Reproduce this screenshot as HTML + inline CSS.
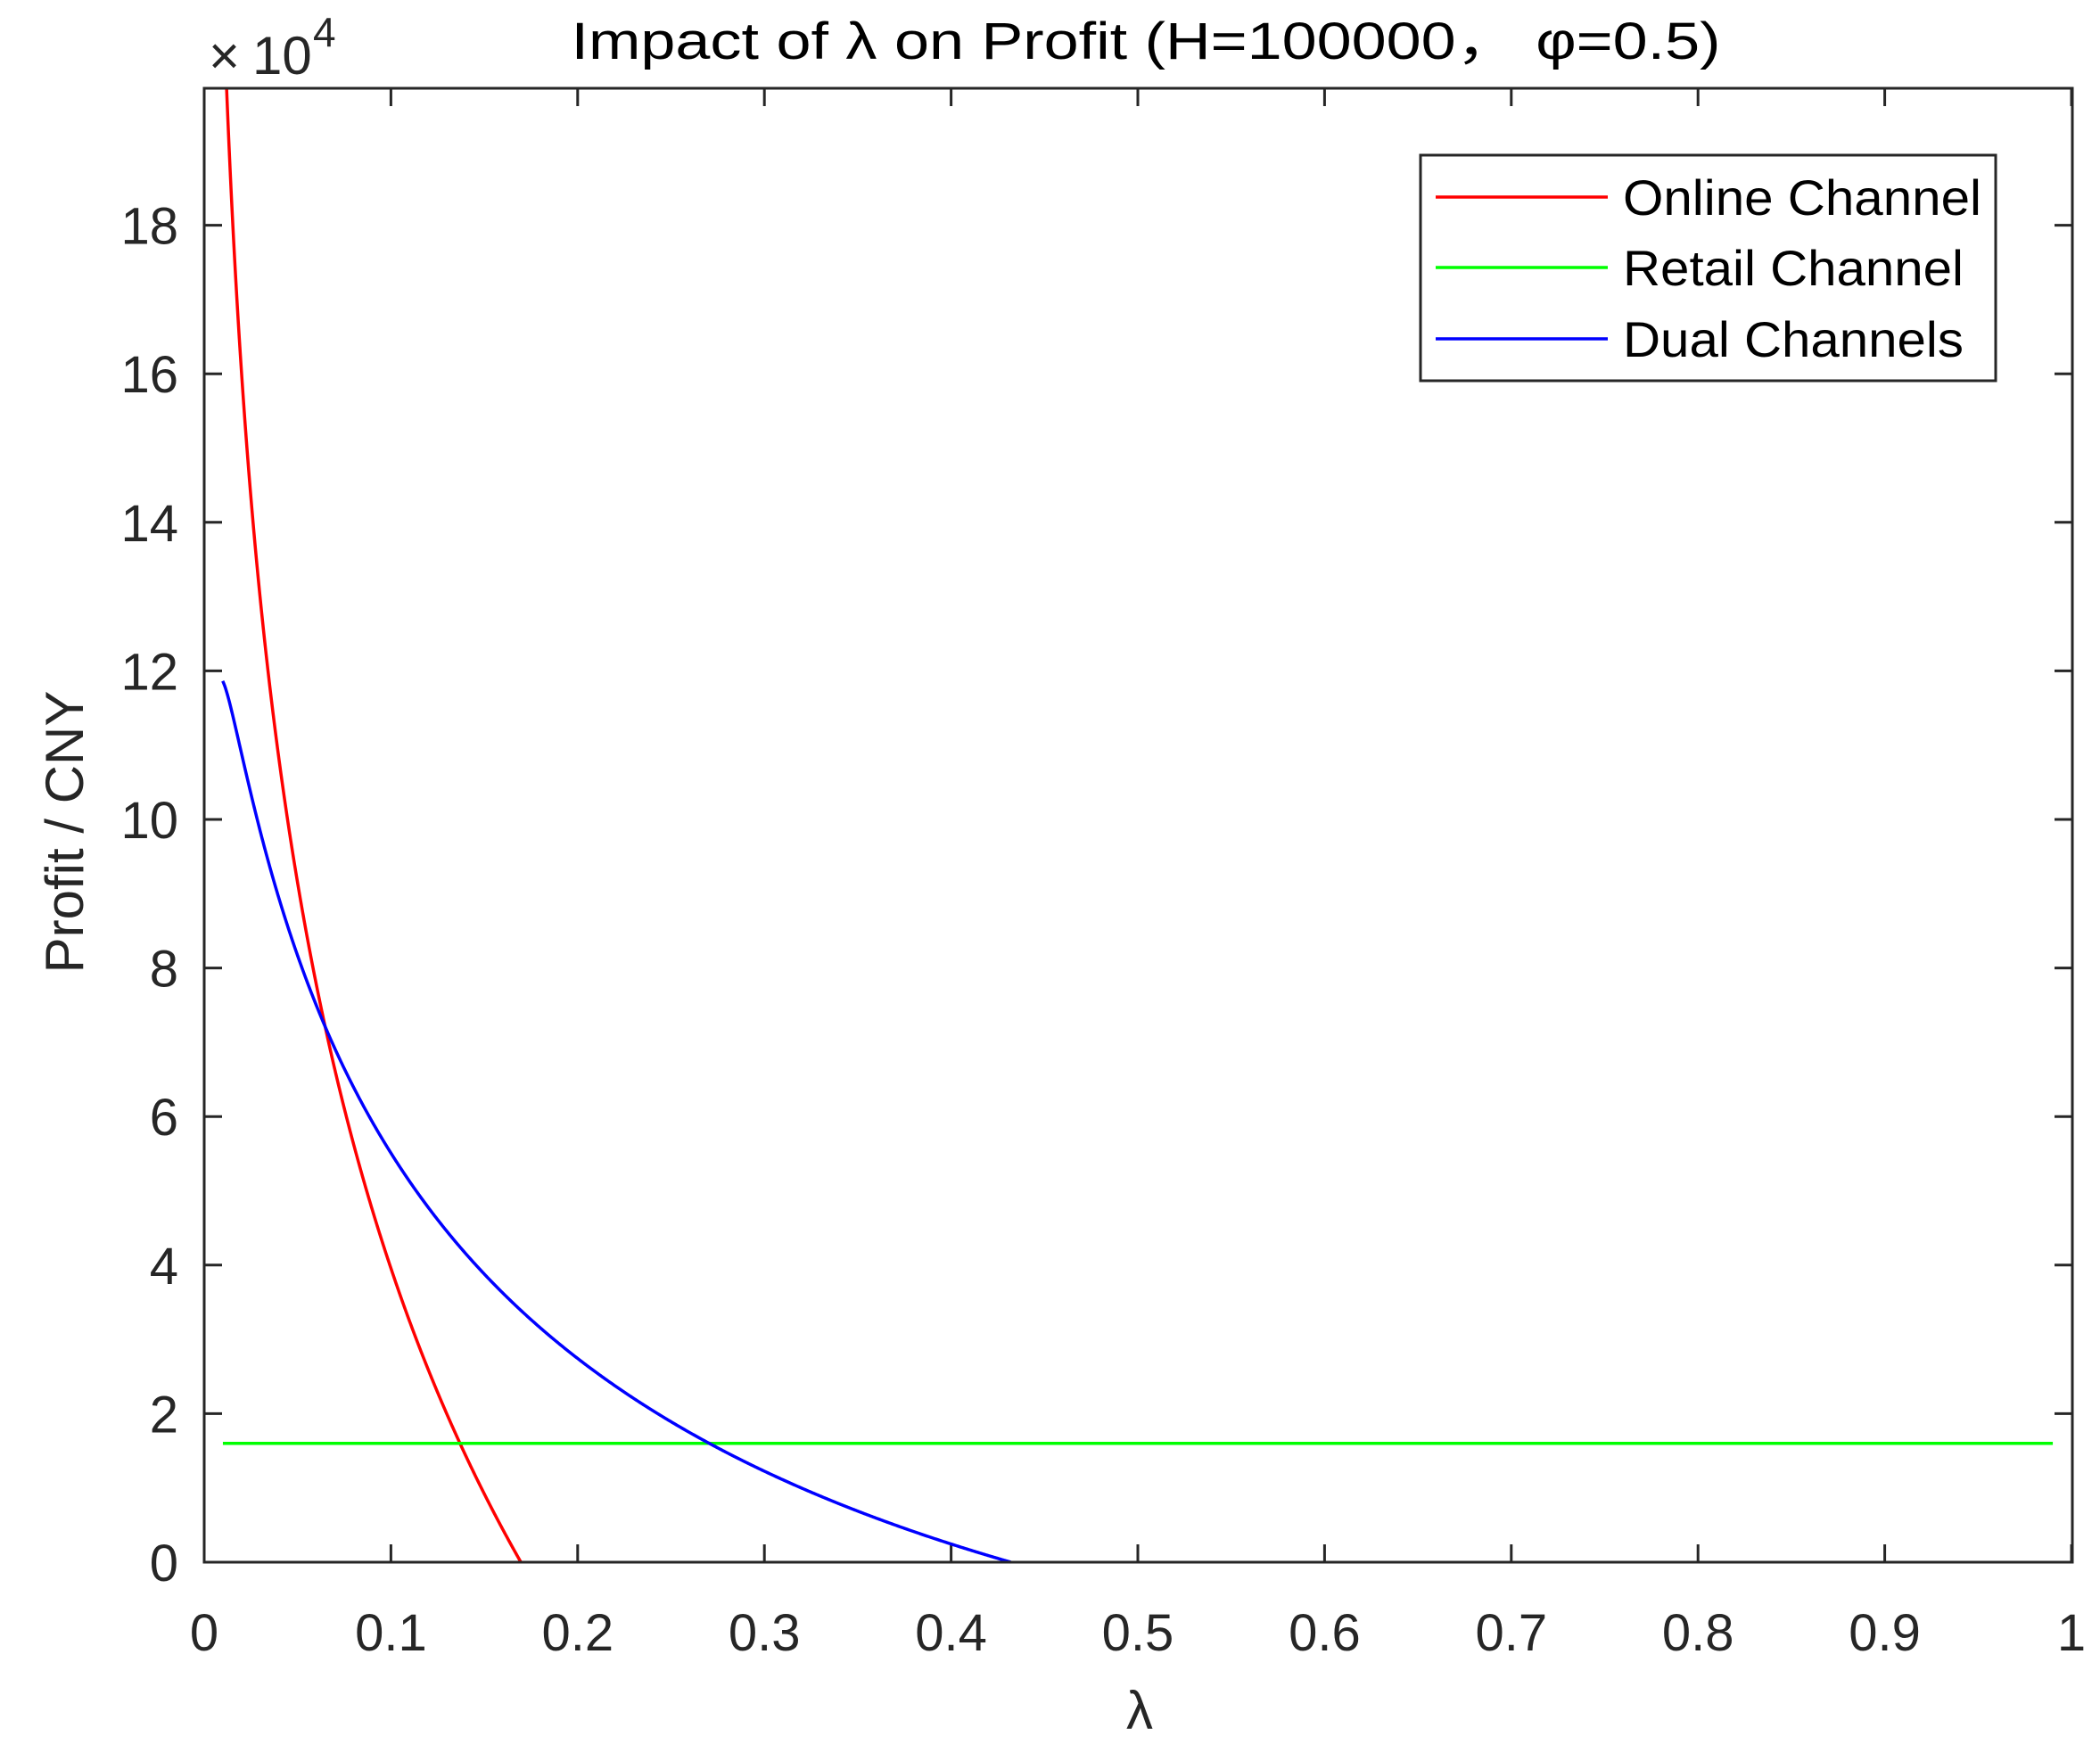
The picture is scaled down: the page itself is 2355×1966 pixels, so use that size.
<!DOCTYPE html>
<html><head><meta charset="utf-8"><style>html,body{margin:0;padding:0;background:#fff}svg{display:block}</style></head>
<body>
<svg id="s" width="2355" height="1966" viewBox="0 0 2355 1966" xmlns="http://www.w3.org/2000/svg" font-family="Liberation Sans, Arial, sans-serif" fill="#262626">
<rect width="2355" height="1966" fill="#fff"/>
<g id="ticks" stroke="#262626" stroke-width="3"></g>
<g id="curves" fill="none" stroke-width="3.5" stroke-linejoin="round"></g>
<rect x="229" y="99" width="2095" height="1653" fill="none" stroke="#262626" stroke-width="3"/>
<g id="labels" font-size="58"></g>
<text x="1285" y="66" font-size="58" text-anchor="middle" fill="#000" textLength="1289" lengthAdjust="spacingAndGlyphs">Impact of λ on Profit (H=100000，  φ=0.5)</text>
<text x="234" y="83" font-size="60">×</text>
<text x="283" y="83" font-size="60">10</text>
<text x="351" y="52" font-size="46">4</text>
<text x="1278" y="1939" font-size="60" text-anchor="middle">λ</text>
<text transform="translate(93,933) rotate(-90)" font-size="60" text-anchor="middle">Profit / CNY</text>
<rect x="1593" y="174" width="645" height="253" fill="#fff" stroke="#262626" stroke-width="3"/>
<line x1="1610" y1="221" x2="1803" y2="221" stroke="#ff0000" stroke-width="3.5"/>
<line x1="1610" y1="300" x2="1803" y2="300" stroke="#00ff00" stroke-width="3.5"/>
<line x1="1610" y1="380" x2="1803" y2="380" stroke="#0000ff" stroke-width="3.5"/>
<g font-size="56" fill="#000">
<text x="1820" y="241" textLength="402" lengthAdjust="spacingAndGlyphs">Online Channel</text>
<text x="1820" y="320" textLength="382" lengthAdjust="spacingAndGlyphs">Retail Channel</text>
<text x="1820" y="400" textLength="382" lengthAdjust="spacingAndGlyphs">Dual Channels</text>
</g>
</svg>
<script>
const NS="http://www.w3.org/2000/svg";
const X=l=>229+2094*l, Y=v=>1752-83.3*v;
const tk=document.getElementById('ticks'), lb=document.getElementById('labels'), cv=document.getElementById('curves');
function el(p,t,a){const e=document.createElementNS(NS,t);for(const k in a)e.setAttribute(k,a[k]);p.appendChild(e);return e;}
for(let i=0;i<=10;i++){const x=X(i/10);
 el(tk,'line',{x1:x,y1:1752,x2:x,y2:1732});el(tk,'line',{x1:x,y1:99,x2:x,y2:119});
 const t=el(lb,'text',{x:x,y:1851,'text-anchor':'middle'});t.textContent=i==0?'0':i==10?'1':'0.'+i;}
for(let v=0;v<=18;v+=2){const y=Y(v);
 el(tk,'line',{x1:229,y1:y,x2:249,y2:y});el(tk,'line',{x1:2324,y1:y,x2:2304,y2:y});
 const t=el(lb,'text',{x:200,y:y+21,'text-anchor':'end'});t.textContent=v;}
function poly(f,a,b,n){let pts=[];for(let k=0;k<=n;k++){const l=a+(b-a)*k/n;let v=f(l);pts.push(X(l).toFixed(2)+','+Y(v).toFixed(2));}return pts.join(' ');}
const redf=l=>7.49*Math.log(0.1696/l);
const lTop=0.1696*Math.exp(-19.84/7.49);
el(cv,'polyline',{points:poly(redf,lTop,0.1696,600),stroke:'#ff0000'});
el(cv,'line',{x1:X(0.01),y1:Y(1.6),x2:X(0.99),y2:Y(1.6),stroke:'#00ff00'});
const bluef=l=>{const L=Math.log(0.432/l);return L*(3.8-0.187*(L-1.9)*(L-1.9));};
el(cv,'polyline',{points:poly(bluef,0.0099,0.432,800),stroke:'#0000ff'});
</script>
</body></html>
